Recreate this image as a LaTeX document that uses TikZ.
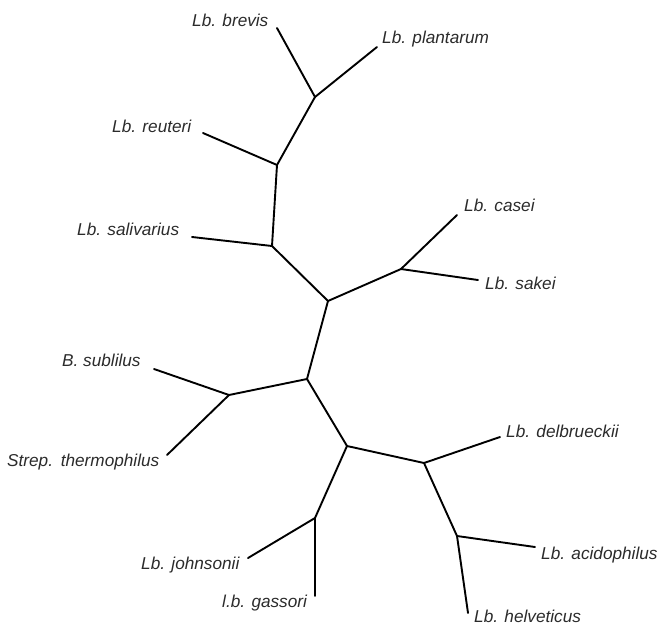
\documentclass[tikz,border=0pt]{standalone}
\usepackage{fontspec}
\setmainfont{Liberation Sans}
\definecolor{labelgray}{HTML}{2B2B2B}
\begin{document}
\begin{tikzpicture}[x=1pt,y=-1pt,
  branch/.style={line width=1.9pt,line cap=round,line join=round,black},
  taxon/.style={anchor=west,inner sep=0pt,text=labelgray,font=\fontsize{17.2}{19}\selectfont\itshape}]
\useasboundingbox (0,0) rectangle (669,627);
% internal junctions
\coordinate (n1) at (315,97);
\coordinate (n2) at (277,165);
\coordinate (n3) at (272,246);
\coordinate (n4) at (328,301);
\coordinate (n5) at (401,269);
\coordinate (n6) at (307,379);
\coordinate (n7) at (229,395);
\coordinate (n8) at (347,446);
\coordinate (n9) at (424,463);
\coordinate (n10) at (457,536);
\coordinate (n11) at (315,518);
% tips
\coordinate (tbrevis) at (277,28);
\coordinate (tplant) at (377,47);
\coordinate (treut) at (203,133);
\coordinate (tsaliv) at (192,237);
\coordinate (tcasei) at (457,215);
\coordinate (tsakei) at (478,280);
\coordinate (tsubt) at (154,369);
\coordinate (ttherm) at (167,455);
\coordinate (tdelb) at (500,437);
\coordinate (tacid) at (535,547);
\coordinate (thelv) at (468,613);
\coordinate (tjohn) at (248,558);
\coordinate (tgass) at (315,596);
% branches
\draw[branch] (tbrevis) -- (n1);
\draw[branch] (tplant) -- (n1);
\draw[branch] (n1) -- (n2);
\draw[branch] (treut) -- (n2);
\draw[branch] (n2) -- (n3);
\draw[branch] (tsaliv) -- (n3);
\draw[branch] (n3) -- (n4);
\draw[branch] (n4) -- (n5);
\draw[branch] (n5) -- (tcasei);
\draw[branch] (n5) -- (tsakei);
\draw[branch] (n4) -- (n6);
\draw[branch] (n6) -- (n7);
\draw[branch] (n7) -- (tsubt);
\draw[branch] (n7) -- (ttherm);
\draw[branch] (n6) -- (n8);
\draw[branch] (n8) -- (n9);
\draw[branch] (n9) -- (tdelb);
\draw[branch] (n9) -- (n10);
\draw[branch] (n10) -- (tacid);
\draw[branch] (n10) -- (thelv);
\draw[branch] (n8) -- (n11);
\draw[branch] (n11) -- (tjohn);
\draw[branch] (n11) -- (tgass);
% labels
\node[taxon] (lbrevis) at (192,20) {Lb. brevis};
\node[taxon] (lplant) at (382,39) {Lb. plantarum};
\node[taxon] (lreut) at (112,126) {Lb. reuteri};
\node[taxon] (lsaliv) at (77,229) {Lb. salivarius};
\node[taxon] (lcasei) at (464,205) {Lb. casei};
\node[taxon] (lsakei) at (485,283) {Lb. sakei};
\node[taxon] (lsubt) at (62,360) {B. sublilus};
\node[taxon] (ltherm) at (7,462) {Strep.\hspace{0.45em}thermophilus};
\node[taxon] (ldelb) at (506,431) {Lb. delbrueckii};
\node[taxon] (lacid) at (541,555) {Lb. acidophilus};
\node[taxon] (lhelv) at (474,616) {Lb. helveticus};
\node[taxon] (ljohn) at (141,565) {Lb. johnsonii};
\node[taxon] (lgass) at (222,603) {l.b. gassori};
\end{tikzpicture}
\end{document}
